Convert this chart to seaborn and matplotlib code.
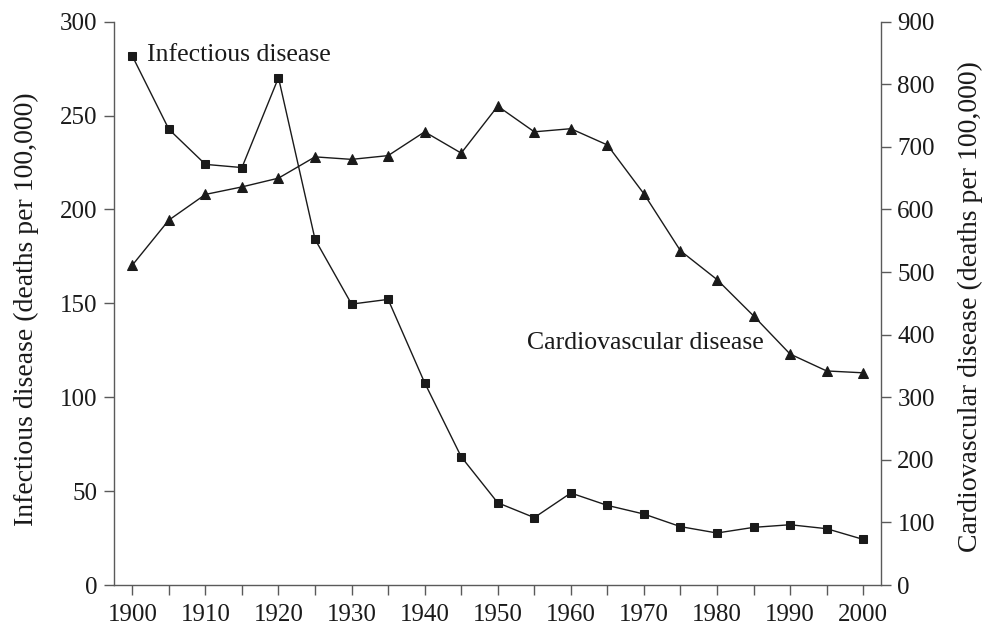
import numpy as np
import pandas as pd
import matplotlib
matplotlib.use("Agg")
import matplotlib.pyplot as plt
import seaborn as sns

# Data (deaths per 100,000)
years = [1900, 1905, 1910, 1915, 1920, 1925, 1930, 1935, 1940, 1945, 1950,
         1955, 1960, 1965, 1970, 1975, 1980, 1985, 1990, 1995, 2000]
infectious = [281.7, 242.7, 224, 222.3, 270.2, 184.1, 149.6, 152.1, 107.7, 68.3, 43.8,
              35.9, 49, 42.4, 37.8, 31.1, 27.7, 30.7, 32.1, 30, 24.3]
cardio = [511, 583, 624, 636, 650, 684, 680, 686, 724, 690, 765,
          724, 729, 703, 625, 534, 488, 430, 369, 342, 339]
x_ticks = list(range(1900, 2001, 10))
left_ticks = list(range(0, 301, 50))
right_ticks = list(range(0, 901, 100))

df = pd.DataFrame({'Year': years, 'Infectious': infectious, 'Cardio': cardio})

sns.set_style('ticks')
plt.rcParams['font.family'] = ['Liberation Serif', 'DejaVu Serif']

ink = '#1a1a1a'
spine_col = '#5a5a5a'

fig = plt.figure(figsize=(9.9, 6.37), dpi=100)
ax = fig.add_axes([0.1152, 0.0816, 0.7744, 0.8844])
ax2 = ax.twinx()

sns.lineplot(data=df, x='Year', y='Infectious', ax=ax, color=ink, linewidth=1.0,
             marker='s', markersize=5.8, markeredgecolor=ink, markerfacecolor=ink)
sns.lineplot(data=df, x='Year', y='Cardio', ax=ax2, color=ink, linewidth=1.0,
             marker='^', markersize=7, markeredgecolor=ink, markerfacecolor=ink)

ax.set_xlim(1897.5, 2002.4)
ax.set_ylim(0, 300)
ax2.set_ylim(0, 900)
ax.set_xticks(x_ticks)
ax.set_xticks(list(range(1905, 2001, 10)), minor=True)
ax.set_yticks(left_ticks)
ax2.set_yticks(right_ticks)

for a in (ax, ax2):
    a.spines['top'].set_visible(False)
    for s in ('left', 'right', 'bottom'):
        a.spines[s].set_color(spine_col)
        a.spines[s].set_linewidth(1.0)
    a.tick_params(axis='both', which='both', colors=spine_col, labelcolor=ink,
                  labelsize=18, length=7, width=1.0, direction='out', pad=5)
ax.spines['right'].set_visible(False)
ax2.spines['left'].set_visible(False)
ax2.spines['bottom'].set_visible(False)
ax.tick_params(axis='x', pad=7)

ax.set_xlabel('')
ax.set_ylabel('Infectious disease (deaths per 100,000)', fontsize=20, color=ink)
ax2.set_ylabel('Cardiovascular disease (deaths per 100,000)', fontsize=20, color=ink)
ax.yaxis.set_label_coords(-0.098, 0.49)
ax2.yaxis.set_label_coords(1.101, 0.495)

ax.text(1902.0, 282, 'Infectious disease', fontsize=18.5, color=ink, va='center', ha='left')
ax2.text(1954.0, 387, 'Cardiovascular disease', fontsize=18.5, color=ink, va='center', ha='left')

fig.savefig('out.png', dpi=100)
